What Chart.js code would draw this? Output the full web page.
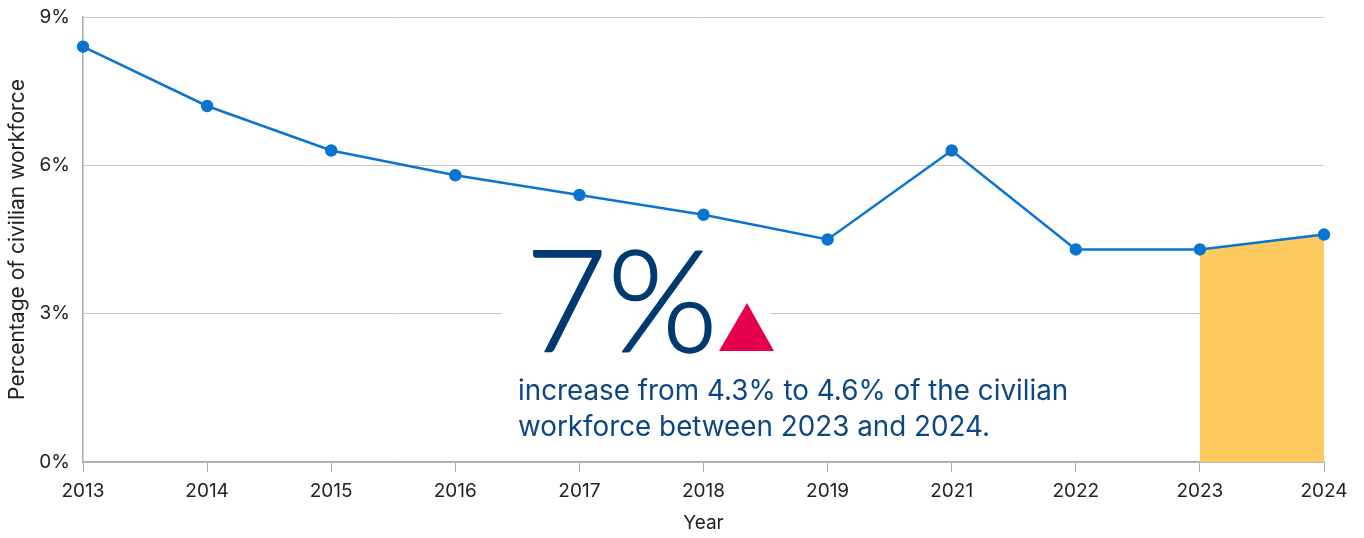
<!DOCTYPE html>
<html>
<head>
<meta charset="utf-8">
<script src="https://cdn.jsdelivr.net/npm/chart.js"></script>
<style>
  html, body { margin: 0; padding: 0; background: #fff; }
  #wrap { width: 1364px; height: 538px; }
</style>
</head>
<body>
<div id="wrap"><canvas id="workforceChart" width="1364" height="538"></canvas></div>
<script>
const years = ['2013', '2014', '2015', '2016', '2017', '2018', '2019', '2021', '2022', '2023', '2024'];
const shareOfWorkforce = [8.4, 7.2, 6.3, 5.8, 5.4, 5.0, 4.5, 6.3, 4.3, 4.3, 4.6];
// only the last two years get the shaded band
const highlightYears = ['2023', '2024'];
const yTicks = [0, 3, 6, 9];

const highlight = years.map((y, i) => highlightYears.includes(y) ? shareOfWorkforce[i] : null);

const FONT = 'Inter, "Open Sans", sans-serif';
const NAVY = '#003a70';

// fit a line of text to a given width
function fitFont(ctx, text, weight, family, width) {
  ctx.font = weight + ' 100px ' + family;
  return weight + ' ' + (100 * width / ctx.measureText(text).width).toFixed(1) + 'px ' + family;
}

// big callout in the middle of the plot
const callout = {
  id: 'callout',
  beforeDatasetsDraw(chart) {
    const { ctx, chartArea } = chart;
    const x0 = chartArea.left;
    ctx.save();
    ctx.fillStyle = '#fff';
    ctx.fillRect(x0 + 418, 240, 270, 120);
    ctx.restore();
  },
  afterDatasetsDraw(chart) {
    const { ctx, chartArea } = chart;
    const x0 = chartArea.left;
    ctx.save();
    ctx.fillStyle = NAVY;
    ctx.strokeStyle = NAVY;
    ctx.lineWidth = 1.5;
    ctx.lineJoin = 'round';
    ctx.textBaseline = 'alphabetic';
    ctx.font = '300 142px Lato, sans-serif';
    ctx.fillText('7%', x0 + 442, 352);
    ctx.strokeText('7%', x0 + 442, 352);

    ctx.fillStyle = '#e4004b';
    ctx.beginPath();
    ctx.moveTo(x0 + 636, 351);
    ctx.lineTo(x0 + 664, 303);
    ctx.lineTo(x0 + 691, 351);
    ctx.closePath();
    ctx.fill();

    ctx.fillStyle = '#0d4680';
    const line1 = 'increase from 4.3% to 4.6% of the civilian';
    ctx.font = fitFont(ctx, line1, '400', FONT, 550);
    ctx.fillText(line1, x0 + 435, 400);
    ctx.fillText('workforce between 2023 and 2024.', x0 + 435, 436);
    ctx.restore();
  }
};

const ctx = document.getElementById('workforceChart').getContext('2d');
const workforceChart = new Chart(ctx, {
  type: 'line',
  data: {
    labels: years,
    datasets: [{
      data: shareOfWorkforce,
      borderColor: '#0a74d1',
      backgroundColor: '#0a74d1',
      borderWidth: 2.5,
      pointRadius: 5,
      pointHoverRadius: 5,
      tension: 0,
      order: 1
    }, {
      data: highlight,
      borderWidth: 0,
      pointRadius: 0,
      fill: 'origin',
      backgroundColor: '#fdca60',
      spanGaps: false,
      order: 2
    }]
  },
  options: {
    responsive: false,
    animation: false,
    layout: { padding: { top: 17, right: 40, left: 0, bottom: 0 } },
    plugins: {
      legend: { display: false },
      tooltip: { enabled: false }
    },
    scales: {
      x: {
        offset: false,
        grid: { drawOnChartArea: false, tickLength: 10, color: '#aaa' },
        border: { color: '#aaa', width: 1.5 },
        ticks: { color: '#222', font: { family: FONT, size: 19 }, padding: 8, maxRotation: 0 },
        title: { display: true, text: 'Year', color: '#222', font: { family: FONT, size: 19 }, padding: { top: 0, bottom: 3 } },
        afterFit: s => { s.height = 76; s.paddingLeft = 0; s.paddingRight = 0; }
      },
      y: {
        min: 0,
        max: 9,
        afterBuildTicks: s => { s.ticks = yTicks.map(v => ({ value: v })); },
        grid: { drawTicks: false, color: '#c8c8c8' },
        border: { color: '#aaa', width: 1.5 },
        ticks: { color: '#222', font: { family: FONT, size: 19 }, padding: 13, callback: v => v + '%' },
        title: { display: true, text: 'Percentage of civilian workforce', color: '#222', font: { family: FONT, size: 21 }, padding: { top: 5, bottom: 0 } },
        afterFit: s => { s.width = 83; s.paddingTop = 0; s.paddingBottom = 0; }
      }
    }
  },
  plugins: [callout]
});
</script>
</body>
</html>
